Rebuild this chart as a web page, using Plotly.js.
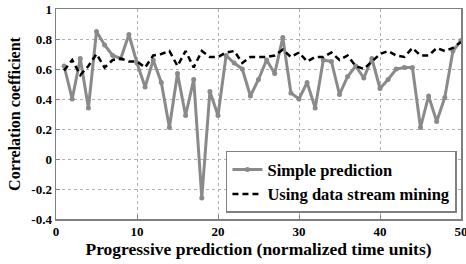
<!DOCTYPE html>
<html>
<head>
<meta charset="utf-8">
<script src="https://cdn.plot.ly/plotly-3.0.1.min.js"></script>
<style>html,body{margin:0;padding:0;background:#fff;}#chart{width:466px;height:264px;}</style>
</head>
<body>
<div id="chart"></div>
<script>
const xValues = [1,2,3,4,5,6,7,8,9,10,11,12,13,14,15,16,17,18,19,20,21,22,23,24,25,26,27,28,29,30,31,32,33,34,35,36,37,38,39,40,41,42,43,44,45,46,47,48,49,50];
const simplePrediction = [0.62,0.40,0.67,0.34,0.85,0.76,0.69,0.67,0.83,0.64,0.48,0.66,0.51,0.21,0.57,0.29,0.53,-0.26,0.45,0.29,0.69,0.64,0.60,0.42,0.53,0.66,0.57,0.81,0.44,0.40,0.51,0.34,0.66,0.65,0.43,0.55,0.62,0.54,0.67,0.47,0.53,0.60,0.61,0.61,0.21,0.42,0.25,0.41,0.72,0.79];
const streamMining = [0.59,0.66,0.56,0.62,0.70,0.61,0.66,0.67,0.65,0.65,0.61,0.69,0.70,0.72,0.62,0.72,0.61,0.72,0.68,0.68,0.71,0.72,0.64,0.68,0.68,0.68,0.69,0.73,0.68,0.71,0.65,0.68,0.68,0.71,0.66,0.69,0.62,0.60,0.65,0.70,0.72,0.69,0.68,0.74,0.69,0.69,0.74,0.72,0.74,0.78];
const seriesNames = ["Simple prediction", "Using data stream mining"];
const xTickVals = [0,10,20,30,40,50];
const yTickVals = [-0.4,-0.2,0,0.2,0.4,0.6,0.8,1];
const yTickText = ["-0.4","-0.2","0","0.2","0.4","0.6","0.8","1"];

const fontFam = "Liberation Serif, serif";
const traces = [
  {x: xValues, y: simplePrediction, name: seriesNames[0], type: 'scatter', mode: 'lines+markers',
   line: {color: '#8a8a8a', width: 3}, marker: {color: '#8a8a8a', size: 5}},
  {x: xValues, y: streamMining, name: seriesNames[1], type: 'scatter', mode: 'lines',
   line: {color: '#000000', width: 2.5, dash: '6px,4px'}}
];
const axisCommon = {
  showline: true, mirror: true, linecolor: '#808080', linewidth: 1.5,
  showgrid: true, gridcolor: '#b0b0b0', griddash: 'dot', gridwidth: 1,
  zeroline: false, ticks: 'inside', ticklen: 4, tickcolor: '#808080',
  ticklabeloverflow: 'allow',
  tickfont: {family: fontFam, size: 13, color: '#000', weight: 'bold'}
};
const layout = {
  width: 466, height: 264,
  margin: {l: 56, r: 5, t: 9, b: 45},
  paper_bgcolor: '#fff', plot_bgcolor: '#fff',
  showlegend: true,
  xaxis: Object.assign({}, axisCommon, {
    range: [0, 50], tickmode: 'array', tickvals: xTickVals, ticklabelstandoff: 0,
    title: {text: 'Progressive prediction (normalized time units)', standoff: 2,
            font: {family: fontFam, size: 17.5, color: '#000', weight: 'bold'}}
  }),
  yaxis: Object.assign({}, axisCommon, {
    range: [-0.4, 1], tickmode: 'array', tickvals: yTickVals, ticktext: yTickText,
    title: {text: 'Correlation coefficient', standoff: 6,
            font: {family: fontFam, size: 16, color: '#000', weight: 'bold'}}
  }),
  legend: {x: 0.99, y: 0.03, xanchor: 'right', yanchor: 'bottom',
           bgcolor: '#fff', bordercolor: '#808080', borderwidth: 1.5,
           font: {family: fontFam, size: 16.5, color: '#000', weight: 'bold'},
           tracegroupgap: 0, itemwidth: 30}
};
Plotly.newPlot('chart', traces, layout, {displayModeBar: false, staticPlot: true});
</script>
</body>
</html>
